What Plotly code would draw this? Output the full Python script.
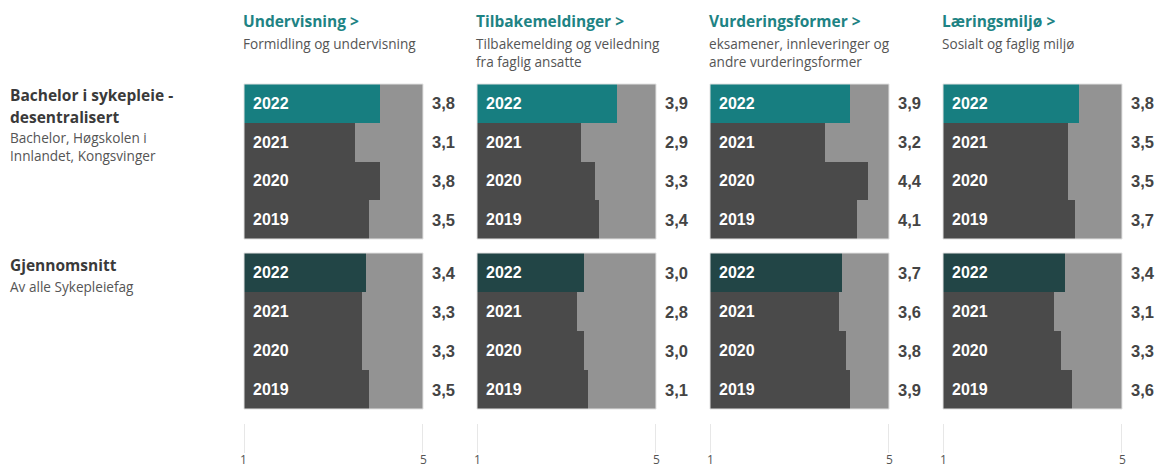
import plotly.graph_objects as go

W, H = 1156, 465

years = ["2022", "2021", "2020", "2019"]
categories = ["Undervisning >", "Tilbakemeldinger >", "Vurderingsformer >", "Læringsmiljø >"]
subtitles = [
    "Formidling og undervisning",
    "Tilbakemelding og veiledning<br>fra faglig ansatte",
    "eksamener, innleveringer og<br>andre vurderingsformer",
    "Sosialt og faglig miljø",
]
group_title_lines = [["Bachelor i sykepleie -", "desentralisert"], ["Gjennomsnitt"]]
group_subs = ["Bachelor, Høgskolen i<br>Innlandet, Kongsvinger", "Av alle Sykepleiefag"]

bachelor_values = [
    [3.8, 3.1, 3.8, 3.5],
    [3.9, 2.9, 3.3, 3.4],
    [3.9, 3.2, 4.4, 4.1],
    [3.8, 3.5, 3.5, 3.7],
]
average_values = [
    [3.4, 3.3, 3.3, 3.5],
    [3.0, 2.8, 3.0, 3.1],
    [3.7, 3.6, 3.8, 3.9],
    [3.4, 3.1, 3.3, 3.6],
]
scale_max = 5
tick_vals = [0, 5]
tick_text = ["1", "5"]

all_values = [bachelor_values, average_values]
highlight = ["#177E80", "#224546"]
dark = "#4A4A4A"
light = "#939393"
teal_text = "#1E8384"
narrow = "Liberation Sans Narrow, Arial Narrow, sans-serif"
sans = "Open Sans, sans-serif"

col_px = [244, 477, 710, 943]
panel_w = 179
group_px = [(84, 239), (253, 409)]

n = len(years)
rows = [n - 1 - i for i in range(n)]

fig = go.Figure()
layout = {}
annotations = []
shapes = []

for g in range(2):
    for c in range(4):
        k = g * 4 + c + 1
        xa = f"x{k}" if k > 1 else "x"
        ya = f"y{k}" if k > 1 else "y"
        vals = all_values[g][c]
        fig.add_trace(go.Bar(
            x=[scale_max] * n, y=rows, orientation="h", width=1,
            marker=dict(color=light, line=dict(width=0)),
            xaxis=xa, yaxis=ya, showlegend=False, hoverinfo="skip"))
        colors = [highlight[g]] + [dark] * (n - 1)
        fig.add_trace(go.Bar(
            x=vals, y=rows, orientation="h", width=1,
            marker=dict(color=colors, line=dict(width=0)),
            customdata=years, hovertemplate="%{customdata}: %{x}<extra></extra>",
            xaxis=xa, yaxis=ya, showlegend=False))
        x0 = col_px[c] / W
        x1 = (col_px[c] + panel_w) / W
        y0 = 1 - group_px[g][1] / H
        y1 = 1 - group_px[g][0] / H
        xname = "xaxis" if k == 1 else f"xaxis{k}"
        yname = "yaxis" if k == 1 else f"yaxis{k}"
        layout[xname] = dict(domain=[x0, x1], range=[0, scale_max], visible=False,
                             anchor=ya, fixedrange=True)
        layout[yname] = dict(domain=[y0, y1], range=[-0.5, n - 0.5], visible=False,
                             anchor=xa, fixedrange=True)
        shapes.append(dict(type="rect", xref=f"{xa} domain", yref=f"{ya} domain",
                           x0=0, x1=1, y0=0, y1=1,
                           line=dict(color="#E2E2E2", width=1), fillcolor="rgba(0,0,0,0)"))
        for yr, r, v in zip(years, rows, vals):
            annotations.append(dict(xref=xa, yref=ya, x=0, y=r, text=f"<b>{yr}</b>",
                                    xanchor="left", xshift=7, showarrow=False,
                                    font=dict(family=narrow, size=16, color="white")))
            annotations.append(dict(xref=xa, yref=ya, x=scale_max, y=r,
                                    text=f"<b>{v:.1f}</b>".replace(".", ","),
                                    xanchor="left", xshift=7, showarrow=False,
                                    font=dict(family=narrow, size=16.5, color="#444444")))
        if g == 1:
            for tv, tt in zip(tick_vals, tick_text):
                shapes.append(dict(type="line", xref=xa, yref="paper",
                                   x0=tv, x1=tv, y0=1 - 453 / H, y1=1 - 424 / H,
                                   line=dict(color="#CFCFCF", width=1)))
                annotations.append(dict(xref=xa, yref="paper", x=tv, y=1 - 449 / H,
                                        text=tt, yanchor="top", showarrow=False,
                                        font=dict(family=sans, size=12, color="#555555")))

# column headers
for c in range(4):
    annotations.append(dict(xref="paper", yref="paper", x=(col_px[c] - 3) / W, y=1 - 21 / H,
                            text=f"<b>{categories[c]}</b>", xanchor="left", yanchor="middle",
                            showarrow=False, font=dict(family=sans, size=15.5, color=teal_text)))
    annotations.append(dict(xref="paper", yref="paper", x=(col_px[c] - 3) / W, y=1 - 32 / H,
                            text=subtitles[c], xanchor="left", yanchor="top", align="left",
                            showarrow=False, font=dict(family=sans, size=13.6, color="#555555")))

# group labels
group_title_y = [[95, 117], [265]]
group_sub_y = [126, 275]
for g in range(2):
    for line, ly in zip(group_title_lines[g], group_title_y[g]):
        annotations.append(dict(xref="paper", yref="paper", x=8 / W, y=1 - ly / H,
                                text=f"<b>{line}</b>", xanchor="left", yanchor="middle",
                                showarrow=False, font=dict(family=sans, size=15.5, color="#3A3A3A")))
    annotations.append(dict(xref="paper", yref="paper", x=8 / W, y=1 - group_sub_y[g] / H,
                            text=group_subs[g], xanchor="left", yanchor="top", align="left",
                            showarrow=False, font=dict(family=sans, size=13.6, color="#555555")))

fig.update_layout(
    width=W, height=H, margin=dict(l=0, r=0, t=0, b=0),
    paper_bgcolor="white", plot_bgcolor="white",
    barmode="overlay", bargap=0,
    annotations=annotations, shapes=shapes,
    **layout,
)

fig.write_html("out.html")
